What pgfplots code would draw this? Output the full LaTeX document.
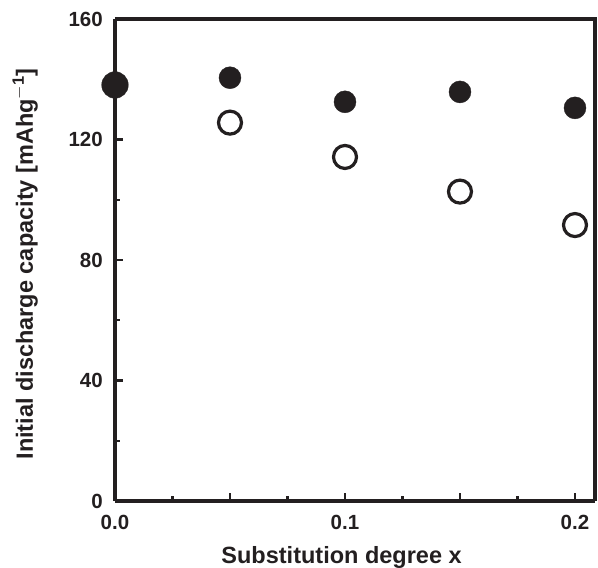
\documentclass[border=0pt]{standalone}
\usepackage{pgfplots}
\pgfplotsset{compat=1.18}
\usepackage{fontspec}
\setmainfont{Liberation Sans}
\definecolor{ink}{RGB}{35,31,32}
\begin{document}
\begin{tikzpicture}
\begin{axis}[
    width=480pt, height=482pt, scale only axis,
    xmin=0, xmax=0.2087, ymin=0, ymax=160,
    axis line style={line width=3.4pt, ink},
    axis lines*=left,
    clip=false,
    xtick={0,0.05,0.1,0.15,0.2},
    xticklabels={0.0,,0.1,,0.2},
    minor xtick={0.025,0.075,0.125,0.175},
    ytick={0,40,80,120,160},
    minor ytick={20,60,100,140},
    tick align=inside,
    major tick length=8pt, minor tick length=5pt,
    tick style={line width=2.2pt, ink},
    ticklabel style={font=\fontsize{20.5}{23}\selectfont\bfseries, text=ink, inner sep=0pt},
    /pgf/number format/assume math mode=true,
    xticklabel style={anchor=base, yshift=-28pt},
    yticklabel style={anchor=east, xshift=-12pt},
    xlabel={Substitution degree x},
    ylabel={Initial discharge capacity [mAhg$^{\mathbf{-1}}$]},
    label style={font=\fontsize{23.5}{26}\selectfont\bfseries, text=ink, inner sep=0pt},
    xlabel style={at={(axis description cs:0.472,0)}, anchor=base, yshift=-62pt},
    ylabel style={at={(axis description cs:-0.171,0.492)}, anchor=base},
]
\draw[line width=3.4pt, ink] (axis cs:0,160) -- (axis cs:0.2087,160) -- (axis cs:0.2087,0);
\path (rel axis cs:0,1) ++(0,19pt);
\path (rel axis cs:1,0) ++(3pt,0);
\path (rel axis cs:0,0) ++(-115pt,-67pt);
\addplot[only marks, mark=*, mark size=13.3pt, ink, fill=ink] coordinates {(0,138.1)};
\addplot[only marks, mark=*, mark size=11pt, ink, fill=ink] coordinates {
    (0.05,140.5)(0.1,132.5)(0.15,135.8)(0.2,130.5)};
\addplot[only marks, mark=o, mark size=11.5pt, line width=3.2pt, ink, fill=white] coordinates {
    (0.05,125.6)(0.1,114.2)(0.15,102.7)(0.2,91.6)};
\end{axis}
\end{tikzpicture}
\end{document}
